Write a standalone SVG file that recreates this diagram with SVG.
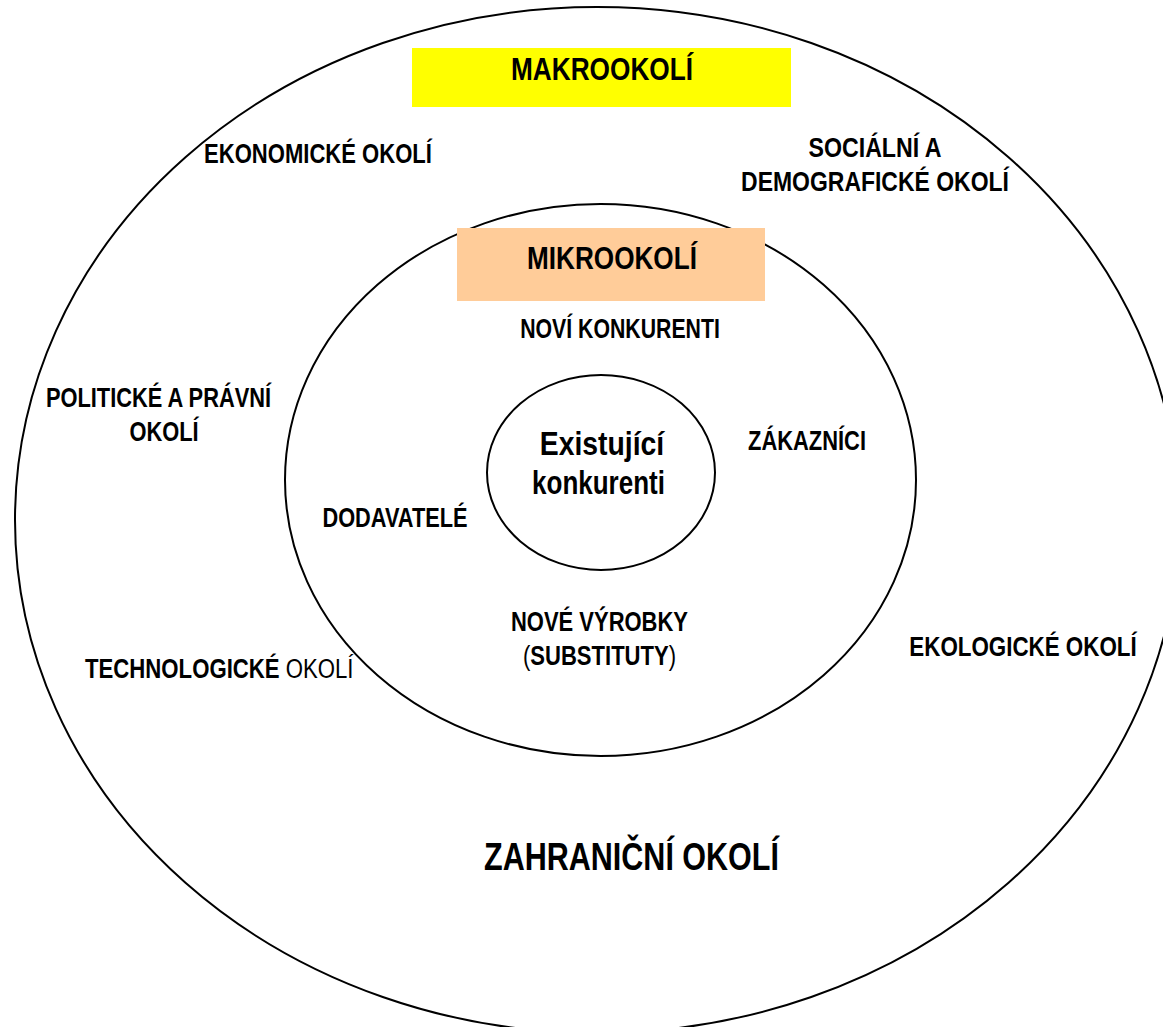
<svg xmlns="http://www.w3.org/2000/svg" width="1163" height="1027" viewBox="0 0 1163 1027">
  <style>
    .ring { fill: none; stroke: #000; stroke-width: 2; }
    .lbl { font-family: "Liberation Sans", Arial, sans-serif; font-weight: bold; font-size: 28px; fill: #000; text-anchor: middle; }
    .title { font-size: 32px; }
    .core { font-size: 34px; }
    .big { font-size: 38px; }
    .reg { font-weight: normal; }
  </style>
  <rect width="1163" height="1027" fill="#fff"/>

  <!-- macro environment: outer ring; labels are narrowed horizontally -->
  <g id="macro">
    <ellipse class="ring" cx="597" cy="520" rx="582" ry="513"/>
    <rect x="412" y="48" width="379" height="59" fill="#ffff00"/>
    <text class="lbl title" transform="translate(602 80) scale(0.819 1)">MAKROOKOLÍ</text>
    <text class="lbl" transform="translate(318 163) scale(0.788 1)">EKONOMICKÉ OKOLÍ</text>
    <text class="lbl" transform="translate(875 157) scale(0.828 1)">SOCIÁLNÍ A</text>
    <text class="lbl" transform="translate(875 191) scale(0.82 1)">DEMOGRAFICKÉ OKOLÍ</text>
    <text class="lbl" transform="translate(158.5 407) scale(0.78 1)">POLITICKÉ A PRÁVNÍ</text>
    <text class="lbl" transform="translate(164 441) scale(0.78 1)">OKOLÍ</text>
    <text class="lbl" style="text-anchor:start" transform="translate(85 678) scale(0.792 1)">TECHNOLOGICKÉ<tspan class="reg"> OKOLÍ</tspan></text>
    <text class="lbl" transform="translate(1023 656) scale(0.799 1)">EKOLOGICKÉ OKOLÍ</text>
    <text class="lbl big" transform="translate(631.5 870) scale(0.803 1)">ZAHRANIČNÍ OKOLÍ</text>
  </g>

  <!-- micro environment: middle ring -->
  <g id="micro">
    <ellipse class="ring" cx="600.5" cy="480" rx="315.5" ry="276"/>
    <rect x="457" y="228" width="308" height="73" fill="#ffcc99"/>
    <text class="lbl title" transform="translate(612 269) scale(0.817 1)">MIKROOKOLÍ</text>
    <text class="lbl" transform="translate(620 338) scale(0.76 1)">NOVÍ KONKURENTI</text>
    <text class="lbl" transform="translate(807 450) scale(0.782 1)">ZÁKAZNÍCI</text>
    <text class="lbl" transform="translate(395 527) scale(0.778 1)">DODAVATELÉ</text>
    <text class="lbl" transform="translate(599.5 631) scale(0.785 1)">NOVÉ VÝROBKY</text>
    <text class="lbl" transform="translate(599.5 665) scale(0.787 1)"><tspan class="reg">(</tspan>SUBSTITUTY<tspan class="reg">)</tspan></text>
  </g>

  <!-- existing competitors: core -->
  <g id="core">
    <ellipse class="ring" cx="601" cy="472.5" rx="114" ry="97.5"/>
    <text class="lbl core" transform="translate(602 455) scale(0.834 1)">Existující</text>
    <text class="lbl core" transform="translate(598.5 494) scale(0.765 1)">konkurenti</text>
  </g>
</svg>
